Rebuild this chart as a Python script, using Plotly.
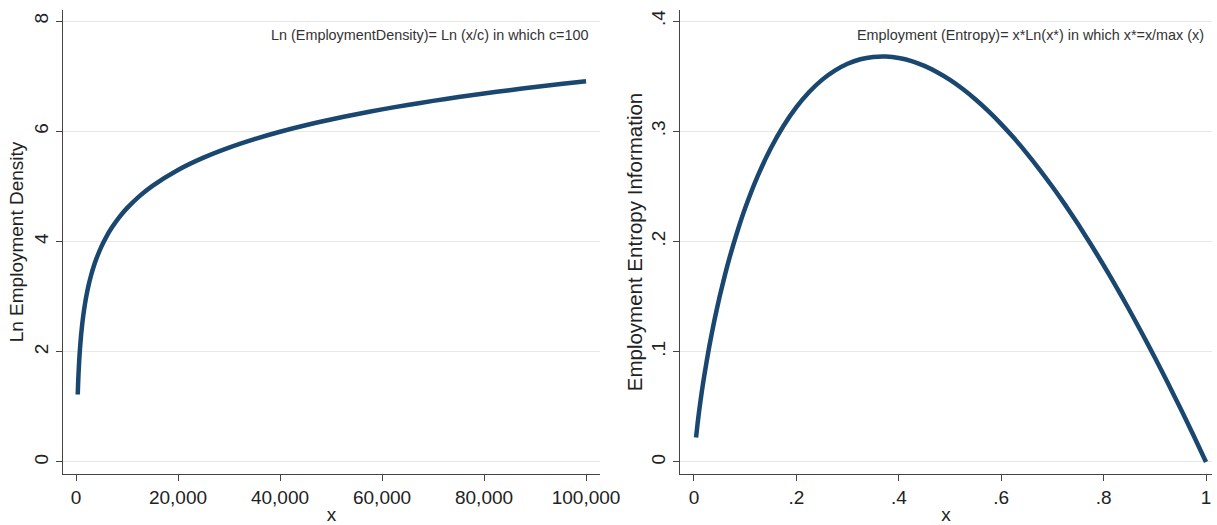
import plotly.graph_objects as go

# Left panel: Ln employment density
density_x = [340, 400, 500, 600, 700, 850, 1000, 1250, 1500, 1750, 2000, 2500, 3000, 3500, 4000, 5000,
             6000, 7000, 8500, 10000, 12500, 15000, 20000, 25000, 30000, 35000, 40000, 45000,
             50000, 55000, 60000, 65000, 70000, 75000, 80000, 85000, 90000, 95000, 100000]
density_y = [1.2238, 1.3863, 1.6094, 1.7918, 1.9459, 2.1401, 2.3026, 2.5257, 2.7081, 2.8622, 2.9957,
             3.2189, 3.4012, 3.5553, 3.6889, 3.9120, 4.0943, 4.2485, 4.4427, 4.6052, 4.8283, 5.0106,
             5.2983, 5.5215, 5.7038, 5.8579, 5.9915, 6.1092, 6.2146, 6.3099, 6.3969, 6.4770, 6.5511,
             6.6201, 6.6846, 6.7452, 6.8024, 6.8565, 6.9078]

# Right panel: employment entropy information
entropy_x = [0.004, 0.007, 0.01, 0.015, 0.02, 0.03, 0.04, 0.05, 0.06, 0.07, 0.085, 0.1, 0.125, 0.15,
             0.175, 0.2, 0.225, 0.25, 0.275, 0.3, 0.325, 0.35, 0.375, 0.4, 0.425, 0.45, 0.475,
             0.5, 0.525, 0.55, 0.575, 0.6, 0.625, 0.65, 0.675, 0.7, 0.725, 0.75, 0.775, 0.8,
             0.825, 0.85, 0.875, 0.9, 0.925, 0.95, 0.975, 1.0]
entropy_y = [0.0221, 0.0347, 0.0461, 0.0630, 0.0782, 0.1052, 0.1288, 0.1498, 0.1688, 0.1862, 0.2095,
             0.2303, 0.2599, 0.2846, 0.3050, 0.3219, 0.3356, 0.3466, 0.3550, 0.3612, 0.3653, 0.3674,
             0.3678, 0.3665, 0.3637, 0.3593, 0.3536, 0.3466, 0.3383, 0.3288, 0.3182, 0.3065, 0.2938,
             0.2800, 0.2653, 0.2497, 0.2332, 0.2158, 0.1975, 0.1785, 0.1587, 0.1381, 0.1168, 0.0948,
             0.0721, 0.0487, 0.0247, 0.0]

left_ticks = [0, 20000, 40000, 60000, 80000, 100000]
left_ticklabels = ["0", "20,000", "40,000", "60,000", "80,000", "100,000"]
left_yticks = [0, 2, 4, 6, 8]
right_ticks = [0, 0.2, 0.4, 0.6, 0.8, 1.0]
right_ticklabels = ["0", ".2", ".4", ".6", ".8", "1"]
right_yticks = [0, 0.1, 0.2, 0.3, 0.4]
right_yticklabels = ["0", ".1", ".2", ".3", ".4"]

NAVY = "#1a476f"
FONT = "Liberation Sans, Arial, sans-serif"

fig = go.Figure()
fig.add_trace(go.Scatter(x=density_x, y=density_y, mode="lines",
                         line=dict(color=NAVY, width=4.5, shape="spline", smoothing=0.6),
                         xaxis="x", yaxis="y", showlegend=False))
fig.add_trace(go.Scatter(x=entropy_x, y=entropy_y, mode="lines",
                         line=dict(color=NAVY, width=4.5, shape="spline", smoothing=0.6),
                         xaxis="x2", yaxis="y2", showlegend=False))

axis_common = dict(showline=True, linecolor="#444444", linewidth=1, ticks="outside", ticklen=6,
                   tickcolor="#444444", tickfont=dict(size=19, color="#222222", family=FONT),
                   zeroline=False, automargin=False)

fig.update_layout(
    width=1217, height=525,
    margin=dict(l=63, r=5, t=10, b=51),
    paper_bgcolor="white", plot_bgcolor="white",
    font=dict(family=FONT, color="#222222"),
    xaxis=dict(domain=[0, 0.4674], range=[-2549, 102745], tickvals=left_ticks, ticktext=left_ticklabels,
               showgrid=False, anchor="y",
               title=dict(text="x", font=dict(size=19), standoff=0), **axis_common),
    yaxis=dict(domain=[0, 1], range=[-0.218, 8.2], tickvals=left_yticks, tickangle=-90,
               showgrid=True, gridcolor="#e8e8e8", anchor="x",
               title=dict(text="Ln Employment Density", font=dict(size=19), standoff=2), **axis_common),
    xaxis2=dict(domain=[0.537, 1], range=[-0.0273, 1.0117], tickvals=right_ticks, ticktext=right_ticklabels,
                showgrid=False, anchor="y2",
                title=dict(text="x", font=dict(size=19), standoff=0), **axis_common),
    yaxis2=dict(domain=[0, 1], range=[-0.0109, 0.41], tickvals=right_yticks, ticktext=right_yticklabels,
                tickangle=-90, showgrid=True, gridcolor="#e8e8e8", anchor="x2",
                title=dict(text="Employment Entropy Information", font=dict(size=20.5), standoff=0), **axis_common),
    annotations=[
        dict(text="Ln (EmploymentDensity)= Ln (x/c) in which c=100", xref="x", yref="y",
             x=101000, y=7.75, xanchor="right", yanchor="middle", showarrow=False,
             font=dict(size=14.4, color="#333333", family=FONT)),
        dict(text="Employment (Entropy)= x*Ln(x*) in which x*=x/max (x)", xref="x2", yref="y2",
             x=0.9995, y=0.3875, xanchor="right", yanchor="middle", showarrow=False,
             font=dict(size=14.4, color="#333333", family=FONT)),
    ],
)

post = ("document.body.style.margin='0';document.body.style.padding='0';"
        "document.body.style.overflow='hidden';"
        "Plotly.relayout('{plot_id}', {width: 1217, height: 525});")

fig.write_html("out.html", config={"responsive": False, "displayModeBar": False}, post_script=post)
